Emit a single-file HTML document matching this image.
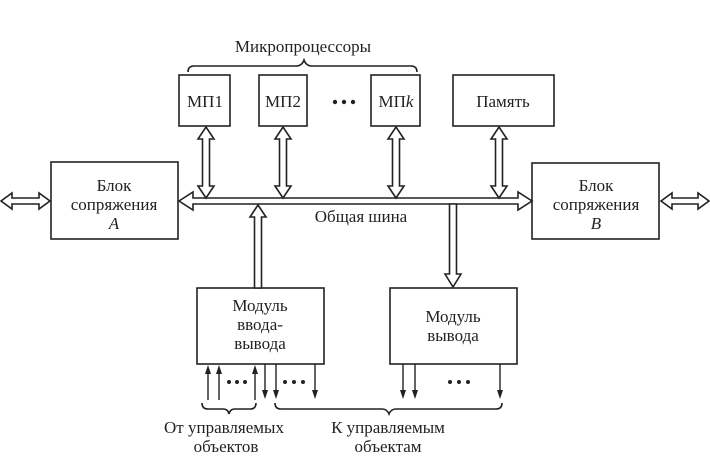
<!DOCTYPE html>
<html><head><meta charset="utf-8"><style>
html,body{margin:0;padding:0;background:#fff;}
svg{display:block;}
text{font-family:"Liberation Serif",serif;font-size:17px;fill:#222;}
</style></head><body>
<svg width="710" height="469" viewBox="0 0 710 469" xmlns="http://www.w3.org/2000/svg">
<g fill="none" stroke="#222" stroke-width="1.6">
<!-- boxes -->
<rect x="179" y="75" width="51" height="51"/>
<rect x="259" y="75" width="48" height="51"/>
<rect x="371" y="75" width="49" height="51"/>
<rect x="453" y="75" width="101" height="51"/>
<rect x="51" y="162" width="127" height="77"/>
<rect x="532" y="163" width="127" height="76"/>
<rect x="197" y="288" width="127" height="76"/>
<rect x="390" y="288" width="127" height="76"/>
<!-- top brace -->
<path d="M188 72 q0 -6 6 -6 L296 66 q6 0 8 -6 q2 6 8 6 L411 66 q6 0 6 6"/>
<!-- bus with arrowheads both ends -->
<path fill="#fff" d="M179 201 L193 192 L193 198 L518 198 L518 192 L532 201 L518 210 L518 204 L193 204 L193 210 Z"/>
<!-- left external arrow -->
<path fill="#fff" d="M1 201 L12 193 L12 198 L39 198 L39 193 L50 201 L39 209 L39 204 L12 204 L12 209 Z"/>
<!-- right external arrow -->
<path fill="#fff" d="M661 201 L672 193 L672 198 L698 198 L698 193 L709 201 L698 209 L698 204 L672 204 L672 209 Z"/>
<!-- vertical double arrows -->
<path fill="#fff" d="M206 127 L214 139 L209.5 139 L209.5 186 L214 186 L206 198 L198 186 L202.5 186 L202.5 139 L198 139 Z"/>
<path fill="#fff" d="M283 127 L291 139 L286.5 139 L286.5 186 L291 186 L283 198 L275 186 L279.5 186 L279.5 139 L275 139 Z"/>
<path fill="#fff" d="M396 127 L404 139 L399.5 139 L399.5 186 L404 186 L396 198 L388 186 L392.5 186 L392.5 139 L388 139 Z"/>
<path fill="#fff" d="M499 127 L507 139 L502.5 139 L502.5 186 L507 186 L499 198 L491 186 L495.5 186 L495.5 139 L491 139 Z"/>
<!-- input arrow up to bus -->
<path fill="#fff" d="M258 205 L266 217 L261.5 217 L261.5 288 L254.5 288 L254.5 217 L250 217 Z"/>
<!-- output arrow down from bus -->
<path fill="#fff" d="M449.5 204 L456.5 204 L456.5 274 L461 274 L453 287 L445 274 L449.5 274 Z"/>
<!-- bottom small arrows -->
<g stroke-width="1.4">
<line x1="208" y1="400" x2="208" y2="368"/><line x1="219" y1="400" x2="219" y2="368"/><line x1="255" y1="400" x2="255" y2="368"/>
<line x1="265" y1="364" x2="265" y2="396"/><line x1="276" y1="364" x2="276" y2="396"/><line x1="315" y1="364" x2="315" y2="396"/>
<line x1="403" y1="364" x2="403" y2="396"/><line x1="415" y1="364" x2="415" y2="396"/><line x1="500" y1="364" x2="500" y2="396"/>
</g>
<!-- braces -->
<path d="M202 403 q0 6 6 6 L223 409 q5 0 6 5 q1 -5 6 -5 L250 409 q6 0 6 -6"/>
<path d="M275 403 q0 6 6 6 L382 409 q5 0 7 5 q2 -5 7 -5 L496 409 q6 0 6 -6"/>
</g>
<g fill="#222">
<path d="M208 365 L211 374 L205 374 Z"/><path d="M219 365 L222 374 L216 374 Z"/><path d="M255 365 L258 374 L252 374 Z"/>
<path d="M265 399 L268 390 L262 390 Z"/><path d="M276 399 L279 390 L273 390 Z"/><path d="M315 399 L318 390 L312 390 Z"/>
<path d="M403 399 L406 390 L400 390 Z"/><path d="M415 399 L418 390 L412 390 Z"/><path d="M500 399 L503 390 L497 390 Z"/>
<circle cx="229" cy="382" r="2"/><circle cx="237" cy="382" r="2"/><circle cx="245" cy="382" r="2"/>
<circle cx="285" cy="382" r="2"/><circle cx="294" cy="382" r="2"/><circle cx="303" cy="382" r="2"/>
<circle cx="450" cy="382" r="2"/><circle cx="459" cy="382" r="2"/><circle cx="468" cy="382" r="2"/>
<circle cx="335" cy="102" r="2.2"/><circle cx="344" cy="102" r="2.2"/><circle cx="353" cy="102" r="2.2"/>
</g>
<g text-anchor="middle">
<text x="303" y="52">Микропроцессоры</text>
<text x="205" y="107">МП1</text>
<text x="283" y="107">МП2</text>
<text x="396" y="107">МП<tspan font-style="italic">k</tspan></text>
<text x="503" y="107">Память</text>
<text x="114" y="191">Блок</text>
<text x="114" y="210">сопряжения</text>
<text x="114" y="229" font-style="italic">A</text>
<text x="596" y="191">Блок</text>
<text x="596" y="210">сопряжения</text>
<text x="596" y="229" font-style="italic">B</text>
<text x="361" y="222">Общая шина</text>
<text x="260" y="311">Модуль</text>
<text x="260" y="330">ввода-</text>
<text x="260" y="349">вывода</text>
<text x="453" y="322">Модуль</text>
<text x="453" y="341">вывода</text>
<text x="224" y="433">От управляемых</text>
<text x="226" y="452">объектов</text>
<text x="388" y="433">К  управляемым</text>
<text x="388" y="452">объектам</text>
</g>
</svg>
</body></html>
